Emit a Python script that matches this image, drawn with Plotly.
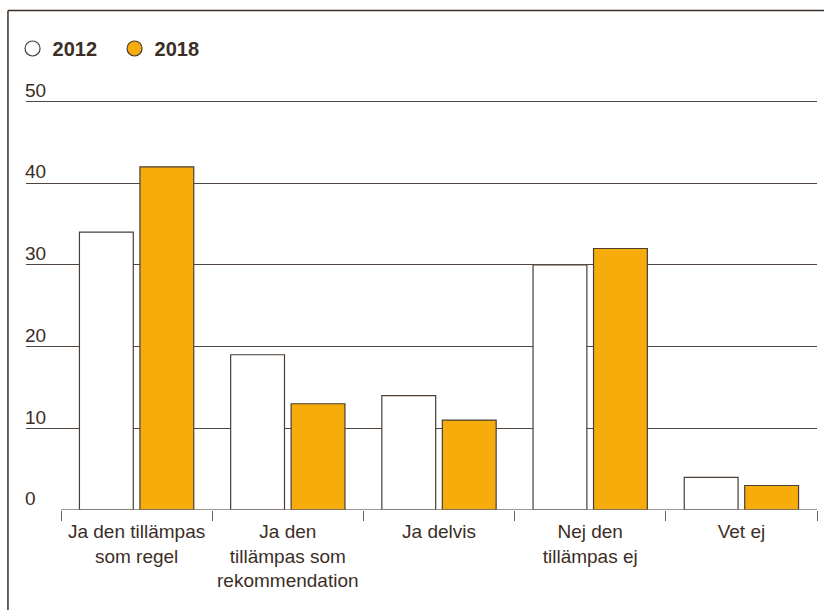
import plotly.graph_objects as go

categories = ["Ja den tillämpas<br>som regel", "Ja den<br>tillämpas som<br>rekommendation",
              "Ja delvis", "Nej den<br>tillämpas ej", "Vet ej"]
values_2012 = [34, 19, 14, 30, 4]
values_2018 = [42, 13, 11, 32, 3]
y_ticks = [0, 10, 20, 30, 40, 50]

TXT = "#3b2e26"
ORANGE = "#F6AD0C"
OUTLINE = "#4a3e35"
GRID = "#4f453e"

fig = go.Figure()
fig.add_trace(go.Bar(x=categories, y=values_2012, name="2012", showlegend=False,
                     marker=dict(color="white", line=dict(color=OUTLINE, width=1.2))))
fig.add_trace(go.Bar(x=categories, y=values_2018, name="2018", showlegend=False,
                     marker=dict(color=ORANGE, line=dict(color=OUTLINE, width=1.2))))
# legend entries with circle symbols
fig.add_trace(go.Scatter(x=[None], y=[None], mode="markers", name="2012",
                         marker=dict(symbol="circle", size=15, color="white",
                                     line=dict(color=OUTLINE, width=1.2))))
fig.add_trace(go.Scatter(x=[None], y=[None], mode="markers", name="2018",
                         marker=dict(symbol="circle", size=15, color=ORANGE,
                                     line=dict(color=OUTLINE, width=1.2))))

# plot area: left 26px, right 817px, bottom 510px (y=0), 8.18 px per unit
ymax = 52.5
xmin = -0.7315
top = 510 - ymax * 8.18
H = 610
fig.update_layout(
    width=824, height=H,
    margin=dict(l=26, r=7, t=top, b=100, autoexpand=False),
    paper_bgcolor="white", plot_bgcolor="white",
    barmode="group", bargap=0.2, bargroupgap=0.11,
    font=dict(family="Liberation Sans, Arial, sans-serif", color=TXT, size=19),
    legend=dict(orientation="h", x=-0.017, xanchor="left",
                y=(510 - 48) / (510 - top), yanchor="middle",
                font=dict(size=20, color=TXT, weight="bold"),
                itemwidth=30, entrywidth=57, tracegroupgap=0, bgcolor="rgba(0,0,0,0)"),
    xaxis=dict(type="category", range=[xmin, 4.5], showgrid=False, showline=False,
               zeroline=False, ticks="outside", tickson="boundaries", ticklen=10,
               tickcolor="#6b6059", tickwidth=1.2, ticklabelstandoff=8,
               tickfont=dict(size=19, color=TXT)),
    yaxis=dict(range=[0, ymax], tickvals=y_ticks, showgrid=True, gridcolor=GRID,
               gridwidth=1.2, zeroline=False, showline=False,
               ticklabelposition="inside top", ticklabeloverflow="allow", ticks="",
               ticklabelstandoff=-4, ticklabelshift=2,
               tickfont=dict(size=19, color=TXT)),
    shapes=[
        # hide grid line at 0 left of the first category
        dict(type="rect", xref="x", yref="y", x0=xmin, x1=-0.5, y0=-0.3, y1=0.3,
             fillcolor="white", line=dict(width=0), layer="between"),
        # baseline
        dict(type="line", xref="x", yref="y", x0=-0.5, x1=4.5, y0=0, y1=0,
             line=dict(color="#7d736c", width=1.5), layer="above"),
        # frame top and left
        dict(type="line", xref="paper", yref="paper", x0=-0.0228, x1=1.01,
             y0=(510 - 10) / (510 - top), y1=(510 - 10) / (510 - top),
             line=dict(color=TXT, width=1.5)),
        dict(type="line", xref="paper", yref="paper", x0=-0.0228, x1=-0.0228,
             y0=(510 - 10) / (510 - top), y1=-0.3,
             line=dict(color=TXT, width=1.5)),
    ],
)

fig.write_html("out.html", config={"displayModeBar": False},
               post_script="document.body.style.margin='0';")
